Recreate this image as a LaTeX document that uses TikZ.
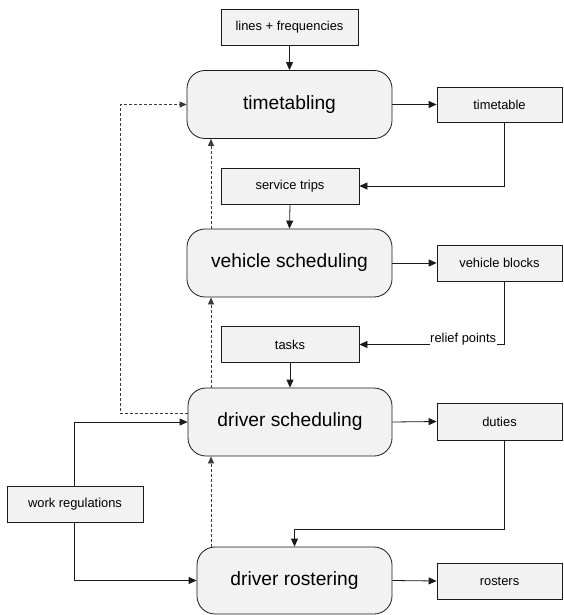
\documentclass[tikz,border=0pt]{standalone}
\usepackage{fontspec}
\setmainfont{Liberation Sans}
\usetikzlibrary{arrows.meta}
\definecolor{boxfill}{HTML}{F2F2F2}
\definecolor{linec}{HTML}{1A1A1A}
\begin{document}
\begin{tikzpicture}[x=1pt,y=-1pt,
  databox/.style={draw=linec, line width=0.8pt, fill=boxfill, rectangle, inner sep=0pt,
    minimum width=136pt, minimum height=36pt, font=\fontsize{12.9}{15}\selectfont},
  outbox/.style={databox, minimum width=125pt},
  procbox/.style={draw=linec, line width=0.8pt, fill=boxfill, rectangle, rounded corners=18pt,
    inner sep=0pt, minimum width=205pt, minimum height=68pt, font=\fontsize{19.2}{22}\selectfont},
  arr/.style={draw=linec, line width=0.8pt, -{Triangle[length=8pt,width=7pt]}},
  dasharr/.style={draw=linec!85, line width=0.7pt, dash pattern=on 3pt off 2pt,
    -{Triangle[length=7pt,width=6pt]}},
  lbl/.style={fill=white, inner xsep=0.5pt, inner ysep=1pt, font=\fontsize{12.9}{15}\selectfont}]
\useasboundingbox (0,0) rectangle (563,615);

% input / intermediate boxes
\node[databox, minimum width=137pt] (lines) at (289.5,27) {lines + frequencies};
\node[databox, minimum width=138pt] (service) at (290,186) {service trips};
\node[databox, minimum width=138pt] (tasks) at (290,344.5) {tasks};
\node[databox] (work) at (75,504) {work regulations};

% processes
\node[procbox] (timetabling) at (289.5,104.5) {timetabling};
\node[procbox] (vehicle) at (289.5,263) {vehicle scheduling};
\node[procbox, minimum width=204pt] (driver) at (290,422) {driver scheduling};
\node[procbox, minimum width=195pt, minimum height=67pt] (rostering) at (294.5,580.5) {driver rostering};

% outputs
\node[outbox, minimum height=35pt] (timetable) at (499.5,104.5) {timetable};
\node[outbox] (blocks) at (499.5,263) {vehicle blocks};
\node[outbox, minimum height=37pt] (duties) at (499.5,421.5) {duties};
\node[outbox] (rosters) at (499.5,581) {rosters};

% solid connectors
\draw[arr] (lines.south) -- (timetabling.north);
\draw[arr] (timetabling.east) -- (timetable.west);
\draw[arr] ([xshift=4.5pt]timetable.south) |- (service.east);
\draw[arr] (service.south) -- (vehicle.north);
\draw[arr] (vehicle.east) -- (blocks.west);
\draw[arr] ([xshift=4.5pt]blocks.south) |- (tasks.east)
  node[lbl, pos=0.641, yshift=5pt] {relief points};
\draw[arr] (tasks.south) -- (driver.north);
\draw[arr] (driver.east) -- (duties.west);
\draw[arr] ([xshift=4.5pt]duties.south) -- ++(0,89) -| (rostering.north);
\draw[arr] (rostering.east) -- (rosters.west);
\draw[arr] ([xshift=-1pt]work.north) |- (driver.west);
\draw[arr] ([xshift=-1pt]work.south) |- (rostering.west);

% dashed feedback connectors
\coordinate (dx) at (211,0);
\coordinate (lx) at (120,413);
\draw[dasharr] (vehicle.north -| dx) -- (timetabling.south -| dx);
\draw[dasharr] (driver.north -| dx) -- (vehicle.south -| dx);
\draw[dasharr] (rostering.north -| dx) -- (driver.south -| dx);
\draw[dasharr] (lx -| driver.west) -- (lx) |- (timetabling.west);
\end{tikzpicture}
\end{document}
